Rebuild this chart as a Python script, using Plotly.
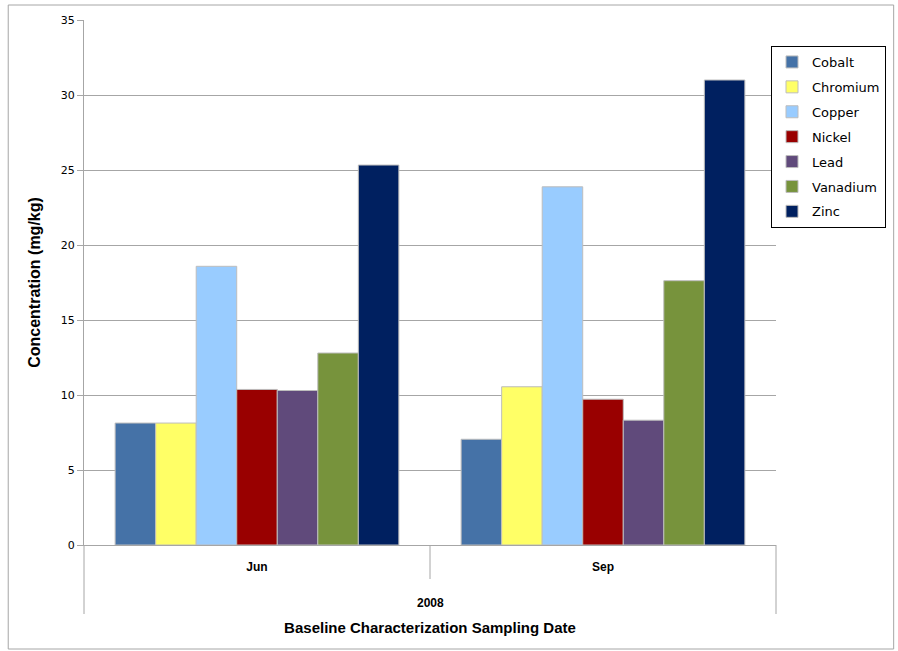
import plotly.graph_objects as go

dates = ["Jun", "Sep"]
year_label = "2008"
metals = ["Cobalt", "Chromium", "Copper", "Nickel", "Lead", "Vanadium", "Zinc"]
values = {
    "Cobalt":   [8.13, 7.05],
    "Chromium": [8.13, 10.55],
    "Copper":   [18.58, 23.88],
    "Nickel":   [10.37, 9.72],
    "Lead":     [10.3, 8.32],
    "Vanadium": [12.8, 17.62],
    "Zinc":     [25.33, 31.0],
}
colors = ["#4572A7", "#FFFF66", "#99CCFF", "#990000", "#604A7B", "#77933C", "#002060"]
y_ticks = [0, 5, 10, 15, 20, 25, 30, 35]

fig = go.Figure()
for i, m in enumerate(metals):
    fig.add_trace(go.Bar(
        x=dates, y=values[m], name=m, legendgroup=m,
        marker=dict(color=colors[i], line=dict(color="#BDBDBD", width=1)),
    ))

W, H = 898, 651
L, R, T, B = 84, 120, 20, 106
pw, ph = W - L - R, H - T - B

def px(xp):
    return (xp - L) / pw

def py(yp):
    return (H - B - yp) / ph

shapes = [
    # outer chart border
    dict(type="rect", xref="paper", yref="paper", x0=px(8), x1=px(896), y0=py(649), y1=py(5),
         line=dict(color="#A6A6A6", width=1), layer="below"),
    # category axis dividers
    dict(type="line", xref="paper", yref="paper", x0=0, x1=0, y0=0, y1=py(614),
         line=dict(color="#A6A6A6", width=1)),
    dict(type="line", xref="paper", yref="paper", x0=0.5, x1=0.5, y0=0, y1=py(579),
         line=dict(color="#A6A6A6", width=1)),
    dict(type="line", xref="paper", yref="paper", x0=1, x1=1, y0=0, y1=py(614),
         line=dict(color="#A6A6A6", width=1)),
]

title_font = dict(family="Liberation Sans, Arial, sans-serif", size=15, color="black")

fig.update_layout(
    width=W, height=H,
    margin=dict(l=L, r=R, t=T, b=B, pad=0),
    paper_bgcolor="white", plot_bgcolor="white",
    barmode="group", bargap=0.18, bargroupgap=0,
    font=dict(family="DejaVu Sans", size=11, color="black"),
    showlegend=True,
    legend=dict(
        x=px(773), y=py(46), xanchor="left", yanchor="top",
        bordercolor="black", borderwidth=1, bgcolor="white",
        font=dict(family="DejaVu Sans", size=13, color="black"),
        traceorder="grouped", tracegroupgap=5,
        itemwidth=30,
    ),
    shapes=shapes,
    annotations=[
        dict(text="<b>" + year_label + "</b>", xref="paper", yref="paper", x=0.5, y=py(603),
             showarrow=False, font=dict(family="Liberation Sans, sans-serif", size=12),
             xanchor="center", yanchor="middle"),
    ],
    xaxis=dict(
        type="category", showgrid=False, showline=True, linecolor="#A6A6A6", linewidth=1,
        ticks="", tickfont=dict(family="Liberation Sans, sans-serif", size=12),
        tickvals=dates, ticktext=["<b>" + d + "</b>" for d in dates],
        ticklabelstandoff=11,
        title=dict(text="<b>Baseline Characterization Sampling Date</b>", font=title_font, standoff=49),
    ),
    yaxis=dict(
        range=[0, 35], tickvals=y_ticks, showgrid=True, gridcolor="#A6A6A6", gridwidth=1,
        showline=True, linecolor="#A6A6A6", linewidth=1,
        ticks="outside", ticklen=6, tickcolor="#A6A6A6",
        tickfont=dict(family="DejaVu Sans", size=11), zeroline=False,
        title=dict(text="<b>Concentration (mg/kg)</b>", font=dict(family="Liberation Sans, Arial, sans-serif", size=16, color="black"), standoff=16),
    ),
)

fig.write_html("out.html", config={"displayModeBar": False},
               post_script="document.body.style.margin='0';document.body.style.padding='0';")
